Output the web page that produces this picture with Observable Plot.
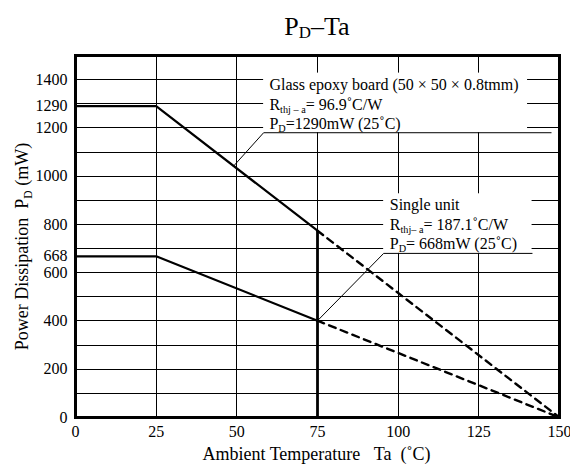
<!DOCTYPE html>
<html>
<head>
<meta charset="utf-8">
<script src="https://cdn.jsdelivr.net/npm/d3@7"></script>
<script src="https://cdn.jsdelivr.net/npm/@observablehq/plot@0.6"></script>
<style>
  html, body { margin: 0; padding: 0; background: #fff; }
  #wrap { width: 570px; height: 465px; position: relative; overflow: hidden; }
  #title {
    height: 44px; width: 506px; padding-left: 64px; text-align: center;
    font-family: "Liberation Serif", "Times New Roman", serif; font-size: 26px;
    line-height: 54px; color: #000; white-space: nowrap;
  }
  #title sub { font-size: 0.65em; line-height: 0; vertical-align: -0.18em; }
  svg { display: block; }
</style>
</head>
<body>
<div id="wrap">
  <div id="title">P<sub>D</sub>–Ta</div>
  <div id="chart"></div>
</div>
<script>
// ---- data ----
const xTicks = [0, 25, 50, 75, 100, 125, 150];
const yTicks = [0, 200, 400, 600, 668, 800, 1000, 1200, 1290, 1400];
const xGrid = [25, 50, 75, 100, 125];
const yGrid = [100, 200, 300, 400, 500, 600, 700, 800, 900, 1000, 1100, 1200, 1300, 1400];
const ta = [0, 25, 75, 150];
const glassPD = [1290, 1290, 774, 0];
const singlePD = [668, 668, 401, 0];
const glassNote = ["Glass epoxy board (50\u00a0×\u00a050\u00a0×\u00a00.8tmm)", "R_{thj\u00a0–\u00a0a}=\u00a096.9˚C/W", "P_{D}=1290mW (25˚C)"];
const singleNote = ["Single unit", "R_{thj–\u00a0a}=\u00a0187.1˚C/W", "P_{D}=\u00a0668mW (25˚C)"];
const xLabel = "Ambient Temperature\u00a0\u00a0\u00a0Ta\u00a0\u00a0(˚C)";
const yLabel = "Power Dissipation\u00a0\u00a0P_{D} (mW)";

// annotation geometry (data units)
const glassBox = {x1: 58.3, x2: 140.1, y1: 1180, y2: 1427};
const glassLeader = {t: [49, 58.3, 147.4], p: [1042, 1180, 1180]};
const glassText = {x: 60.1, y: 1356};
const singleBox = {x1: 95.5, x2: 141.5, y1: 680, y2: 927};
const singleLeader = {t: [75, 95.5, 141.5], p: [401, 680, 680]};
const singleText = {x: 97.4, y: 859};

// ---- tables ----
const pts = (xs, ys) => xs.map((x, i) => ({x, y: ys[i]}));
const glassSolid = pts(ta.slice(0, 3), glassPD.slice(0, 3));
const glassDash = pts(ta.slice(2), glassPD.slice(2));
const singleSolid = pts(ta.slice(0, 3), singlePD.slice(0, 3));
const singleDash = pts(ta.slice(2), singlePD.slice(2));

const noteMarks = (lines, pos) => lines.map((s, i) =>
  Plot.text([s], {x: () => pos.x, y: () => pos.y, text: d => d, textAnchor: "start",
    lineAnchor: "bottom", dy: i * 19.5, fontSize: 16, fill: "black"}));

const chart = Plot.plot({
  width: 570, height: 421,
  marginLeft: 75, marginRight: 11, marginTop: 11, marginBottom: 48,
  style: {fontFamily: "'Liberation Serif', 'Times New Roman', serif", fontSize: "16px", color: "black", background: "white"},
  x: {domain: [0, 150], ticks: xTicks, tickSize: 0, tickPadding: 8, tickFormat: "d", label: null},
  y: {domain: [0, 1500], ticks: yTicks, tickSize: 0, tickPadding: 8, tickFormat: "d", label: null},
  marks: [
    Plot.ruleY(yGrid, {stroke: "black", strokeWidth: 1, shapeRendering: "crispEdges"}),
    Plot.ruleX(xGrid, {stroke: "black", strokeWidth: 1, shapeRendering: "crispEdges"}),
    Plot.rect([glassBox, singleBox], {x1: "x1", x2: "x2", y1: "y1", y2: "y2", fill: "white"}),
    Plot.ruleX([ta[2]], {y1: 0, y2: glassPD[2], stroke: "black", strokeWidth: 2.8}),
    Plot.line(glassSolid, {x: "x", y: "y", stroke: "black", strokeWidth: 2.2}),
    Plot.line(singleSolid, {x: "x", y: "y", stroke: "black", strokeWidth: 2.2}),
    Plot.line(glassDash, {x: "x", y: "y", stroke: "black", strokeWidth: 2.4, strokeDasharray: "7,5.5"}),
    Plot.line(singleDash, {x: "x", y: "y", stroke: "black", strokeWidth: 2.4, strokeDasharray: "7,5.5"}),
    Plot.line(pts(glassLeader.t, glassLeader.p), {x: "x", y: "y", stroke: "black", strokeWidth: 1}),
    Plot.line(pts(singleLeader.t, singleLeader.p), {x: "x", y: "y", stroke: "black", strokeWidth: 1}),
    ...noteMarks(glassNote, glassText),
    ...noteMarks(singleNote, singleText),
    Plot.text([yLabel], {frameAnchor: "left", text: d => d, rotate: -90, textAnchor: "middle", lineAnchor: "middle", dx: -53, dy: 10, fontSize: 18, fill: "black"}),
    Plot.text([xLabel], {frameAnchor: "bottom", text: d => d, textAnchor: "middle", lineAnchor: "bottom", dx: -1, dy: 42, fontSize: 18, fill: "black"}),
    Plot.frame({stroke: "black", strokeWidth: 3})
  ]
});

document.getElementById("chart").appendChild(chart);

// subscripts as real text (tspans)
function richify(root) {
  root.querySelectorAll("text").forEach(t => {
    const s = t.textContent;
    if (!s.includes("_{")) return;
    const fs = parseFloat(getComputedStyle(t).fontSize) || 16;
    const parts = s.split(/_\{([^}]*)\}/);
    t.textContent = "";
    let shifted = false;
    parts.forEach((p, i) => {
      if (!p) return;
      const ts = document.createElementNS("http://www.w3.org/2000/svg", "tspan");
      ts.textContent = p;
      if (i % 2) {
        ts.setAttribute("font-size", (fs * 0.64).toFixed(2));
        ts.setAttribute("dy", (fs * 0.18).toFixed(2));
        shifted = true;
      } else if (shifted) {
        ts.setAttribute("dy", (-fs * 0.18).toFixed(2));
        shifted = false;
      }
      t.appendChild(ts);
    });
  });
}
richify(chart);
</script>
</body>
</html>
